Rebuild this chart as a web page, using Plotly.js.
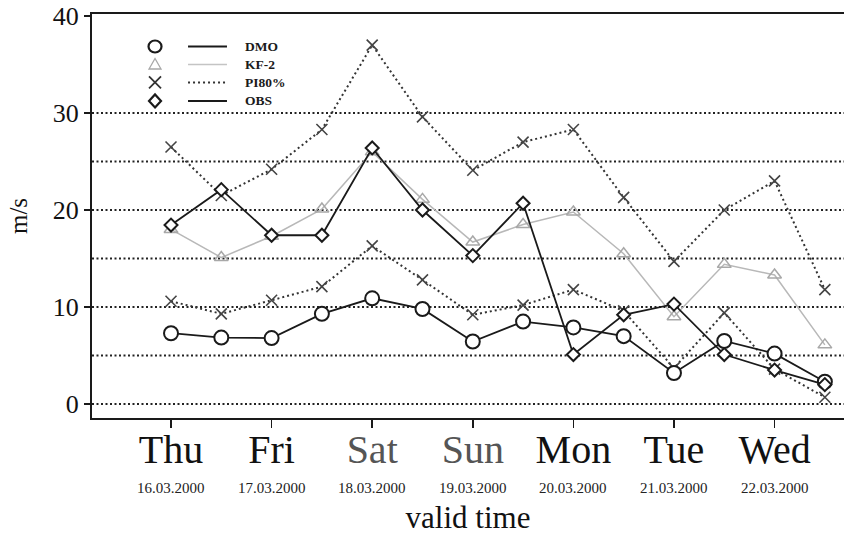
<!DOCTYPE html>
<html>
<head>
<meta charset="utf-8">
<script src="https://cdn.plot.ly/plotly-3.0.1.min.js"></script>
<style>
  html, body { margin: 0; padding: 0; background: #fff; }
  #chart { width: 844px; height: 535px; }
</style>
</head>
<body>
<div id="chart"></div>
<script>
// Forecast times, every 12 hours from Thursday 00 UTC to Wednesday 12 UTC
const times = [
  '2000-03-16 00:00', '2000-03-16 12:00', '2000-03-17 00:00', '2000-03-17 12:00',
  '2000-03-18 00:00', '2000-03-18 12:00', '2000-03-19 00:00', '2000-03-19 12:00',
  '2000-03-20 00:00', '2000-03-20 12:00', '2000-03-21 00:00', '2000-03-21 12:00',
  '2000-03-22 00:00', '2000-03-22 12:00'
];

// Wind speed (m/s)
const dmo     = [7.3, 6.85, 6.8, 9.3, 10.9, 9.8, 6.45, 8.5, 7.9, 7.0, 3.2, 6.5, 5.2, 2.3];
const kf2     = [18.0, 15.1, 17.3, 20.1, 26.0, 21.1, 16.7, 18.5, 19.8, 15.5, 9.0, 14.4, 13.3, 6.1];
const piUpper = [26.5, 21.5, 24.2, 28.3, 37.0, 29.6, 24.1, 27.0, 28.3, 21.3, 14.7, 20.0, 23.0, 11.8];
const piLower = [10.6, 9.3, 10.7, 12.1, 16.3, 12.8, 9.2, 10.2, 11.8, 9.6, 3.7, 9.4, 3.6, 0.7];
const obs     = [18.45, 22.1, 17.4, 17.4, 26.4, 20.0, 15.3, 20.7, 5.1, 9.2, 10.3, 5.1, 3.5, 2.0];

// Axis labelling
const dayTicks = ['2000-03-16', '2000-03-17', '2000-03-18', '2000-03-19', '2000-03-20', '2000-03-21', '2000-03-22'];
const dayNames = ['Thu', 'Fri', 'Sat', 'Sun', 'Mon', 'Tue', 'Wed'];
const dayDates = ['16.03.2000', '17.03.2000', '18.03.2000', '19.03.2000', '20.03.2000', '21.03.2000', '22.03.2000'];
const yTicks = [0, 10, 20, 30, 40];
const gridLevels = [0, 5, 10, 15, 20, 25, 30];

// Legend entries
const legendNames = ['DMO', 'KF-2', 'PI80%', 'OBS'];

const SERIF = 'Liberation Serif, Times New Roman, serif';
const INK = '#1a1a1a';
const GREY = '#b8b8b8';

const traces = [
  {
    x: times, y: kf2, name: 'KF-2', mode: 'lines+markers',
    line: { color: GREY, width: 1.5 },
    marker: { symbol: 'triangle-up-open', size: 12, color: '#a8a8a8', line: { width: 1.5, color: '#a8a8a8' } }
  },
  {
    x: times, y: piUpper, name: 'PI80%', mode: 'lines+markers',
    line: { color: '#333', width: 2, dash: '2px,3px' },
    marker: { symbol: 'x-thin-open', size: 11, color: '#444', line: { width: 1.6, color: '#444' } }
  },
  {
    x: times, y: piLower, name: 'PI80%', mode: 'lines+markers',
    line: { color: '#333', width: 2, dash: '2px,3px' },
    marker: { symbol: 'x-thin-open', size: 11, color: '#444', line: { width: 1.6, color: '#444' } }
  },
  {
    x: times, y: dmo, name: 'DMO', mode: 'lines+markers',
    line: { color: INK, width: 1.8 },
    marker: { symbol: 'circle', size: 14, color: '#fff', line: { width: 2, color: INK } }
  },
  {
    x: times, y: obs, name: 'OBS', mode: 'lines+markers',
    line: { color: INK, width: 1.8 },
    marker: { symbol: 'diamond', size: 10, color: '#fff', line: { width: 2, color: INK } }
  }
];

// Dotted horizontal reference lines every 5 m/s
const shapes = gridLevels.map(v => ({
  type: 'line', xref: 'paper', x0: 0, x1: 1, yref: 'y', y0: v, y1: v,
  line: { color: '#222', width: 2, dash: '2px,2.5px' }, layer: 'below'
}));

// Hand-built legend: symbol, line sample, label
const legX = { symbol: 0.0838, line0: 0.1277, line1: 0.1795, text: 0.2008 };
const legRows = [0.9196, 0.875, 0.8305, 0.7847];
const legSymbols = [
  { type: 'circle', x0: -6.5, x1: 6.5, y0: -6, y1: 6, line: { color: INK, width: 2.2 } },
  { type: 'path', path: 'M-6,-4.5 L6,-4.5 L0,6 Z', line: { color: '#a8a8a8', width: 1.3 } },
  { type: 'path', path: 'M-6,-6 L6,6 M-6,6 L6,-6', line: { color: '#333', width: 1.8 } },
  { type: 'path', path: 'M0,-6.5 L6,0 L0,6.5 L-6,0 Z', line: { color: INK, width: 2.2 } }
];
const legLines = [
  { color: INK, width: 2.2 },
  { color: '#c4c4c4', width: 1.3 },
  { color: '#333', width: 1.8, dash: '2px,3px' },
  { color: INK, width: 2.2 }
];
legSymbols.forEach((s, i) => {
  const base = { xref: 'paper', yref: 'paper', xsizemode: 'pixel', ysizemode: 'pixel',
                 xanchor: legX.symbol, yanchor: legRows[i] };
  shapes.push(Object.assign(base, s));
  shapes.push({ type: 'line', xref: 'paper', yref: 'paper',
                x0: legX.line0, x1: legX.line1, y0: legRows[i], y1: legRows[i], line: legLines[i] });
});

const annotations = legendNames.map((t, i) => ({
  text: t, xref: 'paper', yref: 'paper', x: legX.text, y: legRows[i],
  xanchor: 'left', yanchor: 'middle', showarrow: false,
  font: { family: SERIF, size: 13.5, color: INK, weight: 'bold' }
}));

// Calendar dates under the weekday tick labels
dayTicks.forEach((d, i) => {
  annotations.push({
    text: dayDates[i], xref: 'x', yref: 'paper', x: d, y: -0.173,
    xanchor: 'center', yanchor: 'middle', showarrow: false,
    font: { family: SERIF, size: 15, color: '#222' }
  });
});

const dayLabels = dayNames.map(n => (n === 'Sat' || n === 'Sun')
  ? '<span style="color:#555">' + n + '</span>' : n);

const layout = {
  width: 844, height: 535,
  margin: { l: 92, r: 0, t: 14, b: 117 },
  paper_bgcolor: '#fff', plot_bgcolor: '#fff',
  showlegend: false,
  xaxis: {
    type: 'date',
    range: ['2000-03-15 05:09', '2000-03-22 16:34'],
    tickmode: 'array', tickvals: dayTicks, ticktext: dayLabels,
    ticks: 'outside', ticklen: 8, tickwidth: 1.5, tickcolor: INK,
    ticklabelstandoff: -13,
    showline: true, linewidth: 2, linecolor: INK, mirror: true,
    showgrid: false, zeroline: false,
    tickfont: { family: SERIF, size: 40, color: '#111' },
    title: { text: 'valid time', font: { family: SERIF, size: 31, color: '#111' }, standoff: 40 }
  },
  yaxis: {
    range: [-1.44, 40.21],
    tickmode: 'array', tickvals: yTicks,
    ticks: 'outside', ticklen: 6, tickwidth: 1.5, tickcolor: INK,
    showline: true, linewidth: 2, linecolor: INK,
    showgrid: false, zeroline: false,
    tickfont: { family: SERIF, size: 26, color: '#111' },
    title: { text: 'm/s', font: { family: SERIF, size: 25, color: '#111' }, standoff: 18 }
  },
  shapes: shapes,
  annotations: annotations
};

Plotly.newPlot('chart', traces, layout, { staticPlot: true });
</script>
</body>
</html>
